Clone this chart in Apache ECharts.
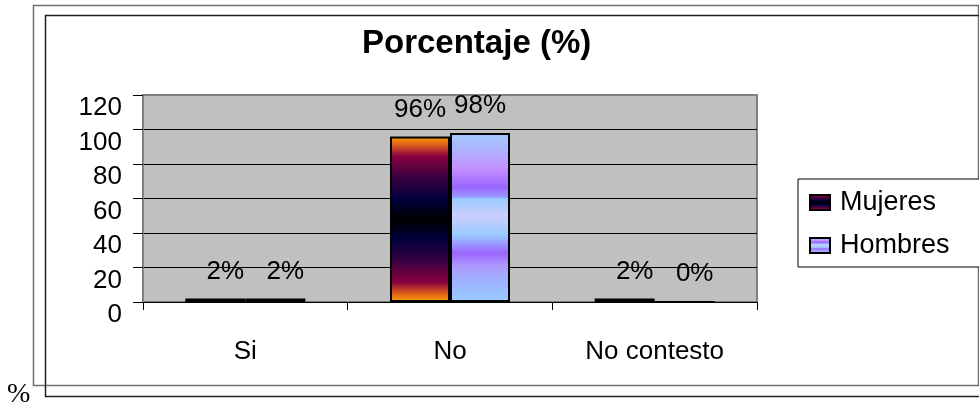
<!DOCTYPE html>
<html>
<head>
<meta charset="utf-8">
<script src="https://cdn.jsdelivr.net/npm/echarts@6/dist/echarts.min.js"></script>
<style>
  html, body { margin: 0; padding: 0; background: #ffffff; }
  #chart { width: 979px; height: 408px; }
</style>
</head>
<body>
<div id="chart"></div>
<script>
// Survey answers, percentage per group
const categories = ['Si', 'No', 'No contesto'];
const seriesNames = ['Mujeres', 'Hombres'];
const mujeres = [2, 96, 2];
const hombres = [2, 98, 0];
const yTicks = { min: 0, max: 120, interval: 20 };

const FONT = "'Liberation Sans', Arial, sans-serif";
const SERIF = "'Liberation Serif', 'Times New Roman', serif";

// Vertical gradient fills for the two series
function grad(stops) {
  return new echarts.graphic.LinearGradient(0, 0, 0, 1,
    stops.map(s => ({ offset: s[0], color: s[1] })));
}
const fillMujeres = grad([
  [0, '#FFA000'], [0.05, '#E0601A'], [0.12, '#880040'], [0.25, '#380040'],
  [0.38, '#00003C'], [0.5, '#000000'], [0.62, '#00003C'], [0.75, '#380040'],
  [0.88, '#880040'], [0.95, '#E0601A'], [1, '#FFA000']
]);
const fillHombres = grad([
  [0, '#A0CCFF'], [0.11, '#B0B0FF'], [0.21, '#C490FF'], [0.32, '#9966FF'],
  [0.38, '#9A99FF'], [0.39, '#99CCFF'], [0.49, '#CCCCFF'], [0.6, '#99CCFF'],
  [0.71, '#9966FF'], [0.79, '#B099FF'], [0.87, '#A0B0FF'], [1, '#99CCFF']
]);

// Horizontal nudge of the value labels per category
const labelShift = [10, 0, 10];

function build(values) {
  return values.map((v, i) => ({
    value: v,
    label: { offset: [labelShift[i], 0] }
  }));
}

const chart = echarts.init(document.getElementById('chart'), null, { renderer: 'canvas' });

const labelCfg = {
  show: true,
  position: 'top',
  distance: 14,
  formatter: p => p.value + '%',
  color: '#000',
  fontFamily: FONT,
  fontSize: 26
};

chart.setOption({
  animation: false,
  backgroundColor: '#ffffff',
  textStyle: { fontFamily: FONT },
  title: [
    {
      text: 'Porcentaje (%)',
      left: 362,
      top: 27,
      padding: 0,
      textStyle: { fontFamily: FONT, fontWeight: 'bold', fontSize: 33, color: '#000' }
    },
    {
      text: '%',
      left: 7,
      top: 381,
      padding: 0,
      textStyle: { fontFamily: SERIF, fontWeight: 'normal', fontSize: 28, color: '#000' }
    }
  ],
  legend: {
    orient: 'vertical',
    left: 798,
    top: 179,
    padding: [10, 60, 8, 11],
    itemGap: 16,
    itemWidth: 20,
    itemHeight: 15,
    icon: 'rect',
    borderColor: '#000',
    borderWidth: 1,
    backgroundColor: '#ffffff',
    textStyle: { fontFamily: FONT, fontSize: 27, color: '#000', padding: [0, 0, 0, 5] },
    data: seriesNames
  },
  grid: {
    left: 143, right: 222, top: 95, bottom: 106,
    show: true,
    backgroundColor: '#C0C0C0',
    borderColor: '#808080',
    borderWidth: 2
  },
  xAxis: {
    type: 'category',
    data: categories,
    axisLine: { show: true, lineStyle: { color: '#000', width: 1 } },
    axisTick: { show: true, length: 8, lineStyle: { color: '#000' } },
    axisLabel: { color: '#000', fontFamily: FONT, fontSize: 26, margin: 37 },
    splitLine: { show: false }
  },
  yAxis: {
    type: 'value',
    min: yTicks.min,
    max: yTicks.max,
    interval: yTicks.interval,
    axisLine: { show: true, lineStyle: { color: '#808080', width: 2 } },
    axisTick: { show: true, length: 10, lineStyle: { color: '#000' } },
    axisLabel: { color: '#000', fontFamily: FONT, fontSize: 26, margin: 21, verticalAlign: 'top' },
    splitLine: { show: true, lineStyle: { color: ['#000', '#000', '#000', '#000', '#000', '#000', '#808080'], width: 1 } }
  },
  series: [
    {
      name: seriesNames[0],
      type: 'bar',
      barWidth: 60,
      barGap: '0%',
      data: build(mujeres),
      itemStyle: { color: fillMujeres, borderColor: '#000', borderWidth: 2 },
      label: labelCfg
    },
    {
      name: seriesNames[1],
      type: 'bar',
      barWidth: 60,
      barGap: '0%',
      data: build(hombres),
      itemStyle: { color: fillHombres, borderColor: '#000', borderWidth: 2 },
      label: labelCfg
    }
  ],
  graphic: [
    { type: 'rect', shape: { x: 33.5, y: 5.5, width: 945, height: 380 },
      style: { fill: 'none', stroke: '#707070', lineWidth: 1.5 }, silent: true },
    { type: 'rect', shape: { x: 45.5, y: 15.5, width: 960, height: 381 },
      style: { fill: 'none', stroke: '#202020', lineWidth: 1.5 }, silent: true }
  ]
});
</script>
</body>
</html>
